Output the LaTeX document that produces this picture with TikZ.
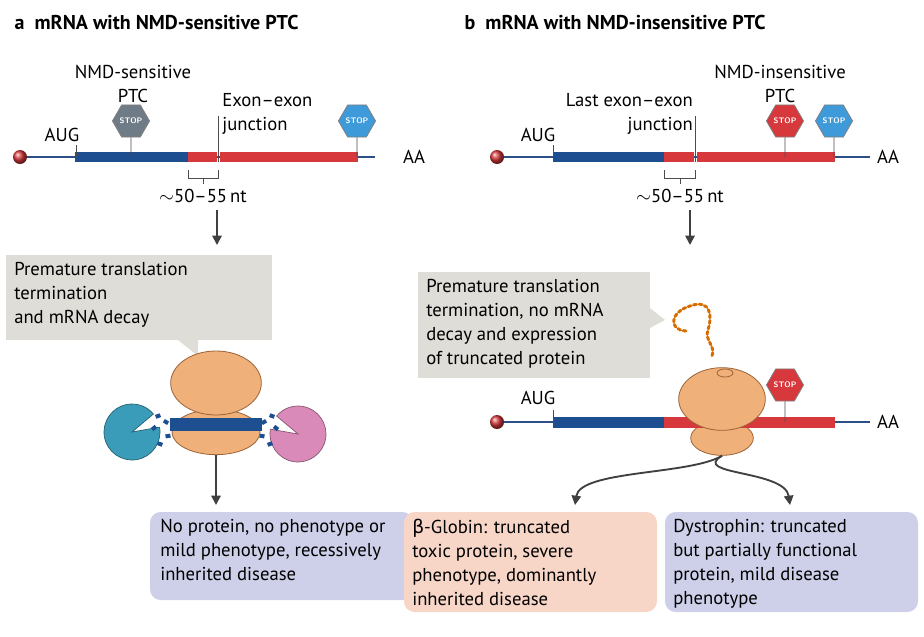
\documentclass[tikz,border=0pt]{standalone}
\usepackage{fontspec}
\setmainfont{PT Sans}
\newfontfamily\greekfont{DejaVu Sans}
\usetikzlibrary{shapes.geometric, arrows.meta, calc}
\definecolor{ExonBlue}{HTML}{1D4E8F}
\definecolor{ExonRed}{HTML}{D6383C}
\definecolor{LineBlue}{HTML}{2B4F86}
\definecolor{CalloutGray}{HTML}{DEDDD7}
\definecolor{BoxLavender}{HTML}{CDD0E8}
\definecolor{BoxPink}{HTML}{F7D6C8}
\definecolor{RiboOrange}{HTML}{F0B07A}
\definecolor{RiboEdge}{HTML}{9C6236}
\definecolor{StopGray}{HTML}{6F7B86}
\definecolor{StopBlue}{HTML}{3E9AD8}
\definecolor{NucCyan}{HTML}{3A9CB8}
\definecolor{NucPink}{HTML}{D98AB8}
\tikzset{
  lbl/.style={font=\fontsize{14}{18}\selectfont, inner sep=0pt},
  boxtext/.style={font=\fontsize{14}{18}\selectfont, align=left, inner sep=0pt, anchor=north west},
  stopsign/.style={regular polygon, regular polygon sides=6, minimum size=27pt, inner sep=0pt,
    draw=black!50, line width=0.6pt, text=white, font=\sffamily\bfseries\fontsize{6}{6}\selectfont},
  thinrna/.style={LineBlue, line width=1.6pt},
  flow/.style={-{Triangle[length=7pt,width=7pt]}, draw=black!75, line width=1.4pt},
  ribo/.style={fill=RiboOrange, draw=RiboEdge, line width=0.6pt}
}
\begin{document}
\begin{tikzpicture}[x=0.75pt, y=-0.75pt]
\useasboundingbox (0,0) rectangle (924,636);

%% Titles
\node[anchor=west, font=\fontsize{15}{18}\selectfont\bfseries] (titleA) at (10,22) {a\enspace mRNA with NMD-sensitive PTC};
\node[anchor=west, font=\fontsize{15}{18}\selectfont\bfseries] (titleB) at (460,22) {b\enspace mRNA with NMD-insensitive PTC};

%% Panel a: mRNA
\draw[thinrna] (20,157) -- (375,157);
\fill[ExonBlue] (75,152) rectangle (188,162);
\fill[ExonRed] (188,152) rectangle (217,162);
\fill[ExonRed] (220,152) rectangle (358,162);
\shade[ball color=ExonRed] (20,157) circle (7);
\draw[black!70, line width=0.5pt] (76,145) -- (76,157);
\node[lbl] (augA) at (62,135) {AUG};
\node[lbl] (aaA) at (414,157) {AA};
\draw[black!70, line width=0.5pt] (218,116) -- (218,162);
\node[lbl, anchor=north west, align=left] (junA) at (222,93) {Exon–exon\\junction};
\node[lbl, align=center] (ptcA) at (133,84) {NMD-sensitive\\PTC};
\node[stopsign, fill=StopGray] (stopPtcA) at (131,121) {STOP};
\draw[black!70, line width=0.5pt] (stopPtcA.south) -- (131,157);
\node[stopsign, fill=StopBlue] (stopA) at (357,121) {STOP};
\draw[black!70, line width=0.5pt] (stopA.south) -- (357,157);
\draw[black!70, line width=0.5pt] (188,170) -- (188,178) -- (218,178) -- (218,170) (203,178) -- (203,184);
\node[lbl] (ntA) at (203,196) {$\sim$50–55\,nt};
\draw[flow] (217,210) -- (217,245);

%% Panel a: callout
\fill[CalloutGray] (6,255) rectangle (272,340);
\fill[CalloutGray] (178,340) -- (198,340) -- (198,356) -- cycle;
\node[boxtext] (calloutA) at (14,262) {Premature translation\\termination\\and mRNA decay};

%% Panel a: ribosome with decay enzymes
\draw[NucCyan!60!black, fill=NucCyan, line width=0.5pt] (132,432) -- ++(-10:28) arc (-10:320:28) -- cycle;
\draw[NucPink!60!black, fill=NucPink, line width=0.5pt] (298,434) -- ++(190:28) arc (190:-140:28) -- cycle;
\foreach \x/\y/\r in {158/416/20, 166/422/-30, 154/428/40, 168/436/10, 160/444/-20,
  272/416/-20, 264/422/30, 276/428/-40, 262/436/-10, 270/444/20}
  \fill[ExonBlue, rotate around={\r:(\x,\y)}] (\x-2.5,\y-2) rectangle (\x+2.5,\y+2);
\node[ribo, ellipse, minimum width=66pt, minimum height=34pt] (smallA) at (216,432) {};
\fill[ExonBlue] (170,418) rectangle (262,431);
\node[ribo, ellipse, minimum width=68pt, minimum height=48pt] (largeA) at (216,383) {};
\draw[flow] (smallA.south) -- (216,505);

\fill[BoxLavender, rounded corners=8pt] (150,512) rectangle (413,600);
\node[boxtext] (resultA) at (160,519) {No protein, no phenotype or\\mild phenotype, recessively\\inherited disease};

%% Panel b: mRNA
\draw[thinrna] (497,157) -- (870,157);
\fill[ExonBlue] (553,152) rectangle (664,162);
\fill[ExonRed] (664,152) rectangle (694,162);
\fill[ExonRed] (697,152) rectangle (835,162);
\shade[ball color=ExonRed] (497,157) circle (7);
\draw[black!70, line width=0.5pt] (553,145) -- (553,157);
\node[lbl] (augB) at (538,135) {AUG};
\node[lbl] (aaB) at (888,157) {AA};
\draw[black!70, line width=0.5pt] (695,116) -- (695,162);
\node[lbl, anchor=north east, align=right] (junB) at (693,93) {Last exon–exon\\junction};
\node[lbl, align=center] (ptcB) at (780,84) {NMD-insensitive\\PTC};
\node[stopsign, fill=ExonRed] (stopPtcB) at (785,121) {STOP};
\draw[black!70, line width=0.5pt] (stopPtcB.south) -- (785,157);
\node[stopsign, fill=StopBlue] (stopB) at (834,121) {STOP};
\draw[black!70, line width=0.5pt] (stopB.south) -- (834,157);
\draw[black!70, line width=0.5pt] (664,170) -- (664,178) -- (695,178) -- (695,170) (680,178) -- (680,184);
\node[lbl] (ntB) at (680,196) {$\sim$50–55\,nt};
\draw[flow] (690,210) -- (690,245);

%% Panel b: callout
\fill[CalloutGray] (418,272) rectangle (650,378);
\fill[CalloutGray] (650,308) -- (665,320) -- (650,328) -- cycle;
\node[boxtext] (calloutB) at (426,279) {Premature translation\\termination, no mRNA\\decay and expression\\of truncated protein};
\draw[orange!85!black, line width=2.2pt, dotted, line cap=round]
  (686,331) .. controls (668,330) and (670,312) .. (690,306)
  .. controls (712,298) and (712,318) .. (708,330)
  .. controls (704,340) and (716,346) .. (712,356);

%% Panel b: ribosome on mRNA
\node[ribo, ellipse, minimum width=47pt, minimum height=26pt] (smallB) at (722,438) {};
\draw[thinrna] (497,422) -- (870,422);
\fill[ExonBlue] (553,417) rectangle (664,428);
\fill[ExonRed] (664,417) rectangle (835,428);
\shade[ball color=ExonRed] (497,422) circle (7);
\draw[black!70, line width=0.5pt] (553,410) -- (553,422);
\node[lbl] (augC) at (538,398) {AUG};
\node[lbl] (aaC) at (888,422) {AA};
\node[stopsign, fill=ExonRed] (stopC) at (785,385) {STOP};
\draw[black!70, line width=0.5pt] (stopC.south) -- (785,422);
\node[ribo, ellipse, minimum width=65pt, minimum height=47pt] (largeB) at (722,399) {};
\draw[ribo] (725,373) ellipse (8 and 4);

\draw[flow] (smallB.south) .. controls (690,475) and (580,470) .. (575,505);
\draw[flow] (smallB.south) .. controls (690,475) and (785,470) .. (790,505);

\fill[BoxPink, rounded corners=8pt] (404,512) rectangle (657,612);
\node[boxtext] (resultB) at (412,519) {{\greekfont β}-Globin: truncated\\toxic protein, severe\\phenotype, dominantly\\inherited disease};
\fill[BoxLavender, rounded corners=8pt] (665,512) rectangle (918,612);
\node[boxtext] (resultC) at (673,519) {Dystrophin: truncated\\but partially functional\\protein, mild disease\\phenotype};
\end{tikzpicture}
\end{document}
